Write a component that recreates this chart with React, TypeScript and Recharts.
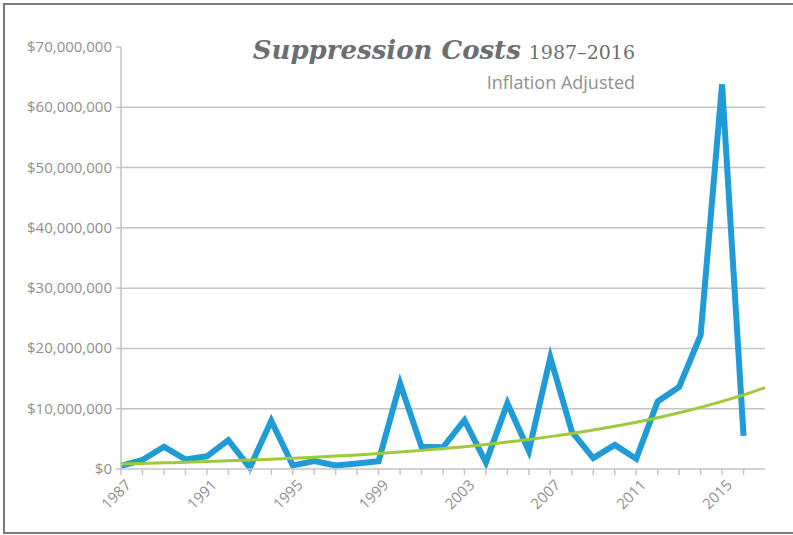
import React from 'react';
import { LineChart, Line, XAxis, YAxis, CartesianGrid } from 'recharts';

/* ------------------------------------------------------------------ */
/*  Data (millions of dollars, inflation adjusted)                     */
/* ------------------------------------------------------------------ */

const YEARS = [
  1987, 1988, 1989, 1990, 1991, 1992, 1993, 1994, 1995, 1996,
  1997, 1998, 1999, 2000, 2001, 2002, 2003, 2004, 2005, 2006,
  2007, 2008, 2009, 2010, 2011, 2012, 2013, 2014, 2015, 2016, 2017,
];

const COSTS: (number | null)[] = [
  0.5, 1.5, 3.7, 1.6, 2.1, 4.8, 0.2, 8.0, 0.6, 1.3,
  0.6, 0.9, 1.3, 14.2, 3.7, 3.6, 8.1, 1.1, 10.9, 3.0,
  18.5, 6.2, 1.8, 4.0, 1.7, 11.2, 13.6, 22.2, 63.8, 5.5, null,
];

const TREND = [
  0.85, 0.93, 1.02, 1.12, 1.23, 1.35, 1.48, 1.62, 1.78, 1.95,
  2.14, 2.34, 2.57, 2.82, 3.09, 3.39, 3.71, 4.07, 4.47, 4.9,
  5.37, 5.89, 6.46, 7.08, 7.76, 8.51, 9.33, 10.23, 11.22, 12.3, 13.49,
];

const Y_TICKS = [0, 10, 20, 30, 40, 50, 60, 70];
const GRID_VALUES = [10, 20, 30, 40, 50, 60];
const X_TICKS = YEARS.slice(0, 30);

const data = YEARS.map((year, i) => ({ year, cost: COSTS[i], trend: TREND[i] }));

/* ------------------------------------------------------------------ */
/*  Styles                                                             */
/* ------------------------------------------------------------------ */

const BLUE = '#1f9bd7';
const GREEN = '#9dc93b';
const AXIS_GRAY = '#c3c3c3';
const TEXT_GRAY = '#909090';
const FONT = '"Open Sans", sans-serif';

const W = 793;
const H = 535;

type TickProps = { x?: number; y?: number; payload?: { value: number } };

function YearTick({ x, y, payload }: TickProps) {
  if (!payload || (payload.value - 1987) % 4 !== 0) return null;
  const px = (x ?? 0) + 11;
  const py = (y ?? 0) + 9;
  return (
    <text
      x={px}
      y={py}
      transform={`rotate(-45, ${px}, ${py})`}
      textAnchor="end"
      fontSize={15}
      fontFamily={FONT}
      fill={TEXT_GRAY}
    >
      {payload.value}
    </text>
  );
}

function DollarTick({ x, y, payload }: TickProps) {
  if (!payload) return null;
  return (
    <text
      x={x ?? 0}
      y={(y ?? 0) + 5}
      textAnchor="end"
      fontSize={15}
      fontFamily={FONT}
      fill={TEXT_GRAY}
    >
      {`$${(payload.value * 1000000).toLocaleString('en-US')}`}
    </text>
  );
}

export default function App() {
  return (
    <div style={{ position: 'absolute', left: 0, top: 0, width: W, height: H, background: '#fff' }}>
      <LineChart
        width={W}
        height={H}
        data={data}
        margin={{ top: 47, right: 28, left: 0, bottom: 0 }}
      >
        <CartesianGrid
          vertical={false}
          horizontalValues={GRID_VALUES}
          stroke={AXIS_GRAY}
          strokeWidth={1.5}
        />
        <XAxis
          dataKey="year"
          type="number"
          domain={[1987, 2017]}
          ticks={X_TICKS}
          interval={0}
          height={66}
          stroke={AXIS_GRAY}
          strokeWidth={1.5}
          tickSize={6}
          tick={<YearTick />}
        />
        <YAxis
          width={121}
          domain={[0, 70]}
          ticks={Y_TICKS}
          interval={0}
          stroke={AXIS_GRAY}
          strokeWidth={1.5}
          tickSize={5}
          tickMargin={4}
          tick={<DollarTick />}
        />
        <Line
          type="linear"
          dataKey="cost"
          stroke={BLUE}
          strokeWidth={6}
          dot={false}
          activeDot={false}
          isAnimationActive={false}
        />
        <Line
          type="monotone"
          dataKey="trend"
          stroke={GREEN}
          strokeWidth={3}
          dot={false}
          activeDot={false}
          isAnimationActive={false}
        />
      </LineChart>

      <svg
        width={W}
        height={H}
        style={{ position: 'absolute', left: 0, top: 0, pointerEvents: 'none' }}
      >
        {/* frame */}
        <line x1={4} y1={4} x2={W} y2={4} stroke="#7b7b7b" strokeWidth={2} />
        <line x1={4} y1={3} x2={4} y2={534} stroke="#7b7b7b" strokeWidth={2} />
        <line x1={3} y1={533} x2={W} y2={533} stroke="#7b7b7b" strokeWidth={2} />

        {/* title */}
        <text x={635} y={59} textAnchor="end" fill="#6d6e71">
          <tspan fontFamily="'DejaVu Serif', serif" fontWeight="bold" fontStyle="italic" fontSize={26}>
            Suppression Costs
          </tspan>
          <tspan fontFamily="'DejaVu Serif', serif" fontSize={19} dx={8}>
            1987–2016
          </tspan>
        </text>
        <text x={635} y={89} textAnchor="end" fontFamily={FONT} fontSize={18} fill={TEXT_GRAY}>
          Inflation Adjusted
        </text>
      </svg>
    </div>
  );
}
